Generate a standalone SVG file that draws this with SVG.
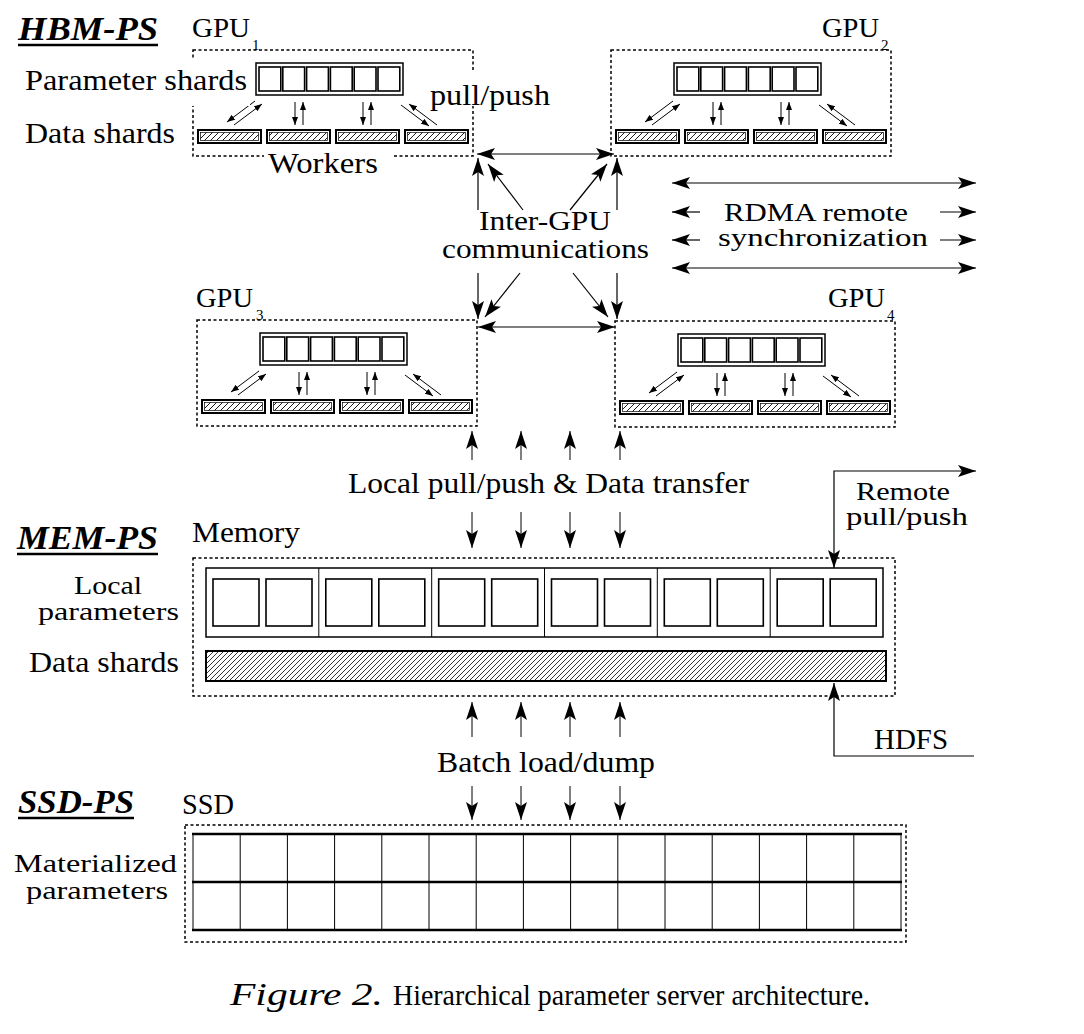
<svg xmlns="http://www.w3.org/2000/svg" width="1084" height="1034" viewBox="0 0 1084 1034">
<style>
 .t{font-family:"Liberation Serif","Times New Roman",Times,serif;font-size:30px;fill:#000}
 .hd{font-weight:bold;font-style:italic;font-size:34px}
 .gl{font-size:27px}
 .sub{font-size:15px}
 .ml{font-size:27px}
 .m2{font-size:25px}
 .it{font-style:italic;font-size:32px}
 .dash{fill:none;stroke:#000;stroke-width:1.5;stroke-dasharray:3 2.5}
 .box{fill:#fff;stroke:#000;stroke-width:1.5}
 .sq{fill:#fff;stroke:#000;stroke-width:1.6}
 .bar{fill:#fff;stroke:#000;stroke-width:2}
 .hb{fill:url(#hatch);stroke:#000;stroke-width:0.7}
 .hb2{fill:url(#hatch2);stroke:#000;stroke-width:2}
 .ln{fill:none;stroke:#000;stroke-width:1.2}
 .thin{fill:none;stroke:#000;stroke-width:1}
 .thick{fill:none;stroke:#000;stroke-width:2.4}
 .sa{fill:none;stroke:#000;stroke-width:1;marker-end:url(#sm)}
 .a1{marker-end:url(#ah)}
 .a0{marker-start:url(#ah)}
 .a2{marker-start:url(#ah);marker-end:url(#ah)}
 .mask{fill:#fff}
 .ul{stroke:#000;stroke-width:2.5}
</style>
<defs>
 <marker id="ah" markerUnits="userSpaceOnUse" viewBox="0 -7 19 14" markerWidth="19" markerHeight="14" refX="18" refY="0" orient="auto-start-reverse">
  <path d="M0,-6 L18,0 L0,6 L4,0 Z" fill="#000"/>
 </marker>
 <marker id="sm" markerUnits="userSpaceOnUse" viewBox="0 -3.5 9 7" markerWidth="9" markerHeight="7" refX="8" refY="0" orient="auto">
  <path d="M0,-3 L8,0 L0,3 Z" fill="#000"/>
 </marker>
 <pattern id="hatch" patternUnits="userSpaceOnUse" width="6" height="6">
  <path d="M-1,1 L1,-1 M0,6 L6,0 M5,7 L7,5" stroke="#000" stroke-width="0.9"/>
 </pattern>
 <pattern id="hatch2" patternUnits="userSpaceOnUse" width="5" height="5">
  <rect width="5" height="5" fill="#fff"/>
  <path d="M-1,1 L1,-1 M0,5 L5,0 M4,6 L6,4" stroke="#000" stroke-width="0.8"/>
 </pattern>
 <g id="gpuTpl">
  <rect class="dash" x="0" y="0" width="280" height="106"/>
  <rect class="box" x="63" y="13" width="147" height="32"/>
  <rect class="sq" x="66" y="17" width="21.8" height="24"/>
  <rect class="sq" x="89.8" y="17" width="21.8" height="24"/>
  <rect class="sq" x="113.6" y="17" width="21.8" height="24"/>
  <rect class="sq" x="137.4" y="17" width="21.8" height="24"/>
  <rect class="sq" x="161.2" y="17" width="21.8" height="24"/>
  <rect class="sq" x="185" y="17" width="21.8" height="24"/>
  <rect class="bar" x="5" y="80" width="63" height="13"/>
  <rect class="hb" x="7.5" y="82.5" width="58" height="8"/>
  <rect class="bar" x="74" y="80" width="63" height="13"/>
  <rect class="hb" x="76.5" y="82.5" width="58" height="8"/>
  <rect class="bar" x="143" y="80" width="63" height="13"/>
  <rect class="hb" x="145.5" y="82.5" width="58" height="8"/>
  <rect class="bar" x="212" y="80" width="63" height="13"/>
  <rect class="hb" x="214.5" y="82.5" width="58" height="8"/>
  <line class="sa" x1="62" y1="51" x2="34" y2="72"/>
  <line class="sa" x1="41" y1="75" x2="69" y2="54"/>
  <line class="sa" x1="102" y1="52" x2="102" y2="75"/>
  <line class="sa" x1="110" y1="75" x2="110" y2="52"/>
  <line class="sa" x1="170" y1="52" x2="170" y2="75"/>
  <line class="sa" x1="178" y1="75" x2="178" y2="52"/>
  <line class="sa" x1="208" y1="55" x2="236" y2="76"/>
  <line class="sa" x1="244" y1="75" x2="216" y2="54"/>
 </g>
</defs>
<rect width="1084" height="1034" fill="#fff"/>

<g id="tier-labels">
 <text class="t hd" x="18" y="40" textLength="140" lengthAdjust="spacingAndGlyphs">HBM-PS</text>
 <line class="ul" x1="18" y1="45" x2="158" y2="45"/>
 <text class="t hd" x="17" y="549" textLength="141" lengthAdjust="spacingAndGlyphs">MEM-PS</text>
 <line class="ul" x1="17" y1="554" x2="158" y2="554"/>
 <text class="t hd" x="18" y="813" textLength="116" lengthAdjust="spacingAndGlyphs">SSD-PS</text>
 <line class="ul" x1="18" y1="818" x2="134" y2="818"/>
</g>

<g id="gpu1">
 <use href="#gpuTpl" transform="translate(193,50)"/>
 <rect class="mask" x="186" y="60" width="64" height="46"/>
 <rect class="mask" x="426" y="72" width="126" height="34"/>
 <rect class="mask" x="264" y="148" width="130" height="30"/>
 <text class="t gl" x="192" y="37" textLength="58" lengthAdjust="spacingAndGlyphs">GPU</text>
 <text class="t sub" x="252" y="50">1</text>
 <text class="t" x="25" y="90" textLength="222" lengthAdjust="spacingAndGlyphs">Parameter shards</text>
 <text class="t" x="430" y="105" textLength="120" lengthAdjust="spacingAndGlyphs">pull/push</text>
 <text class="t" x="25" y="143" textLength="150" lengthAdjust="spacingAndGlyphs">Data shards</text>
 <text class="t" x="268" y="173" textLength="110" lengthAdjust="spacingAndGlyphs">Workers</text>
</g>

<g id="gpu2">
 <use href="#gpuTpl" transform="translate(611,50)"/>
 <text class="t gl" x="822" y="37" textLength="57" lengthAdjust="spacingAndGlyphs">GPU</text>
 <text class="t sub" x="881" y="50">2</text>
</g>

<g id="gpu3">
 <use href="#gpuTpl" transform="translate(197,320)"/>
 <text class="t gl" x="196" y="307" textLength="57" lengthAdjust="spacingAndGlyphs">GPU</text>
 <text class="t sub" x="256" y="320">3</text>
</g>

<g id="gpu4">
 <use href="#gpuTpl" transform="translate(615,321)"/>
 <text class="t gl" x="828" y="307" textLength="57" lengthAdjust="spacingAndGlyphs">GPU</text>
 <text class="t sub" x="887" y="320">4</text>
</g>

<g id="inter-gpu-label">
 <text class="t ml" x="479" y="230" textLength="132" lengthAdjust="spacingAndGlyphs">Inter-GPU</text>
 <text class="t ml" x="442" y="258" textLength="207" lengthAdjust="spacingAndGlyphs">communications</text>
</g>

<g id="rdma-label">
 <text class="t m2" x="724" y="221" textLength="184" lengthAdjust="spacingAndGlyphs">RDMA remote</text>
 <text class="t m2" x="718" y="246" textLength="210" lengthAdjust="spacingAndGlyphs">synchronization</text>
</g>

<g id="mem-ps">
 <text class="t" x="192" y="542" textLength="108" lengthAdjust="spacingAndGlyphs">Memory</text>
 <rect class="dash" x="193" y="558" width="702" height="138"/>
 <rect class="box" x="206" y="568" width="677" height="69"/>
 <line class="thin" x1="318.8" y1="568" x2="318.8" y2="637"/>
 <line class="thin" x1="431.7" y1="568" x2="431.7" y2="637"/>
 <line class="thin" x1="544.5" y1="568" x2="544.5" y2="637"/>
 <line class="thin" x1="657.3" y1="568" x2="657.3" y2="637"/>
 <line class="thin" x1="770.2" y1="568" x2="770.2" y2="637"/>
 <rect class="sq" x="213" y="579" width="46" height="47"/>
 <rect class="sq" x="266" y="579" width="46" height="47"/>
 <rect class="sq" x="325.8" y="579" width="46" height="47"/>
 <rect class="sq" x="378.8" y="579" width="46" height="47"/>
 <rect class="sq" x="438.7" y="579" width="46" height="47"/>
 <rect class="sq" x="491.7" y="579" width="46" height="47"/>
 <rect class="sq" x="551.5" y="579" width="46" height="47"/>
 <rect class="sq" x="604.5" y="579" width="46" height="47"/>
 <rect class="sq" x="664.3" y="579" width="46" height="47"/>
 <rect class="sq" x="717.3" y="579" width="46" height="47"/>
 <rect class="sq" x="777.2" y="579" width="46" height="47"/>
 <rect class="sq" x="830.2" y="579" width="46" height="47"/>
 <rect class="hb2" x="206" y="651" width="680" height="30"/>
 <text class="t m2" x="74" y="594" textLength="68" lengthAdjust="spacingAndGlyphs">Local</text>
 <text class="t m2" x="38" y="620" textLength="141" lengthAdjust="spacingAndGlyphs">parameters</text>
 <text class="t" x="29" y="672" textLength="150" lengthAdjust="spacingAndGlyphs">Data shards</text>
</g>

<g id="ssd-ps">
 <text class="t" x="182" y="814" textLength="52" lengthAdjust="spacingAndGlyphs">SSD</text>
 <rect class="dash" x="185" y="825" width="721" height="117"/>
 <rect x="193" y="834" width="708" height="96" fill="#fff"/>
 <g class="thin">
  <line x1="193" y1="834" x2="193" y2="930"/>
  <line x1="240.2" y1="834" x2="240.2" y2="930"/>
  <line x1="287.4" y1="834" x2="287.4" y2="930"/>
  <line x1="334.6" y1="834" x2="334.6" y2="930"/>
  <line x1="381.8" y1="834" x2="381.8" y2="930"/>
  <line x1="429" y1="834" x2="429" y2="930"/>
  <line x1="476.2" y1="834" x2="476.2" y2="930"/>
  <line x1="523.4" y1="834" x2="523.4" y2="930"/>
  <line x1="570.6" y1="834" x2="570.6" y2="930"/>
  <line x1="617.8" y1="834" x2="617.8" y2="930"/>
  <line x1="665" y1="834" x2="665" y2="930"/>
  <line x1="712.2" y1="834" x2="712.2" y2="930"/>
  <line x1="759.4" y1="834" x2="759.4" y2="930"/>
  <line x1="806.6" y1="834" x2="806.6" y2="930"/>
  <line x1="853.8" y1="834" x2="853.8" y2="930"/>
  <line x1="901" y1="834" x2="901" y2="930"/>
 </g>
 <line class="thick" x1="192" y1="834" x2="902" y2="834"/>
 <line class="thick" x1="192" y1="882" x2="902" y2="882"/>
 <line class="thick" x1="192" y1="930" x2="902" y2="930"/>
 <text class="t m2" x="14" y="872" textLength="163" lengthAdjust="spacingAndGlyphs">Materialized</text>
 <text class="t m2" x="26" y="899" textLength="142" lengthAdjust="spacingAndGlyphs">parameters</text>
</g>

<g id="connectors">
 <line class="ln a2" x1="477" y1="154" x2="614" y2="154"/>
 <line class="ln a1" x1="478" y1="210" x2="478" y2="158"/>
 <line class="ln a1" x1="523" y1="210" x2="488" y2="164"/>
 <line class="ln a1" x1="570" y1="210" x2="607" y2="164"/>
 <line class="ln a1" x1="617" y1="210" x2="617" y2="158"/>
 <line class="ln a1" x1="478" y1="273" x2="478" y2="319"/>
 <line class="ln a1" x1="520" y1="273" x2="485" y2="317"/>
 <line class="ln a1" x1="573" y1="273" x2="608" y2="317"/>
 <line class="ln a1" x1="617" y1="273" x2="617" y2="319"/>
 <line class="ln a2" x1="478" y1="327" x2="615" y2="327"/>

 <line class="ln a2" x1="672" y1="183" x2="976" y2="183"/>
 <line class="ln a0" x1="672" y1="212" x2="700" y2="212"/>
 <line class="ln a1" x1="940" y1="212" x2="976" y2="212"/>
 <line class="ln a0" x1="672" y1="240" x2="700" y2="240"/>
 <line class="ln a1" x1="940" y1="240" x2="976" y2="240"/>
 <line class="ln a2" x1="672" y1="268" x2="976" y2="268"/>

 <line class="thin a1" x1="472" y1="460" x2="472" y2="431"/>
 <line class="thin a1" x1="521" y1="460" x2="521" y2="431"/>
 <line class="thin a1" x1="570" y1="460" x2="570" y2="431"/>
 <line class="thin a1" x1="620" y1="460" x2="620" y2="431"/>
 <line class="thin a1" x1="472" y1="512" x2="472" y2="548"/>
 <line class="thin a1" x1="521" y1="512" x2="521" y2="548"/>
 <line class="thin a1" x1="570" y1="512" x2="570" y2="548"/>
 <line class="thin a1" x1="620" y1="512" x2="620" y2="548"/>

 <line class="thin a1" x1="472" y1="737" x2="472" y2="702"/>
 <line class="thin a1" x1="521" y1="737" x2="521" y2="702"/>
 <line class="thin a1" x1="570" y1="737" x2="570" y2="702"/>
 <line class="thin a1" x1="620" y1="737" x2="620" y2="702"/>
 <line class="thin a1" x1="472" y1="786" x2="472" y2="820"/>
 <line class="thin a1" x1="521" y1="786" x2="521" y2="820"/>
 <line class="thin a1" x1="570" y1="786" x2="570" y2="820"/>
 <line class="thin a1" x1="620" y1="786" x2="620" y2="820"/>

 <polyline class="ln a2" points="834,568 834,471 976,471"/>
 <polyline class="ln a1" points="974,756 834,756 834,683"/>
</g>

<g id="flow-labels">
 <text class="t" x="348" y="493" textLength="401" lengthAdjust="spacingAndGlyphs">Local pull/push &amp; Data transfer</text>
 <text class="t m2" x="856" y="500" textLength="94" lengthAdjust="spacingAndGlyphs">Remote</text>
 <text class="t m2" x="846" y="525" textLength="122" lengthAdjust="spacingAndGlyphs">pull/push</text>
 <text class="t" x="874" y="749" textLength="74" lengthAdjust="spacingAndGlyphs">HDFS</text>
 <text class="t" x="437" y="772" textLength="218" lengthAdjust="spacingAndGlyphs">Batch load/dump</text>
</g>

<g id="caption">
 <text class="t it" x="230" y="1005" textLength="153" lengthAdjust="spacingAndGlyphs">Figure 2.</text>
 <text class="t" x="393" y="1005" textLength="477" lengthAdjust="spacingAndGlyphs">Hierarchical parameter server architecture.</text>
</g>
</svg>
